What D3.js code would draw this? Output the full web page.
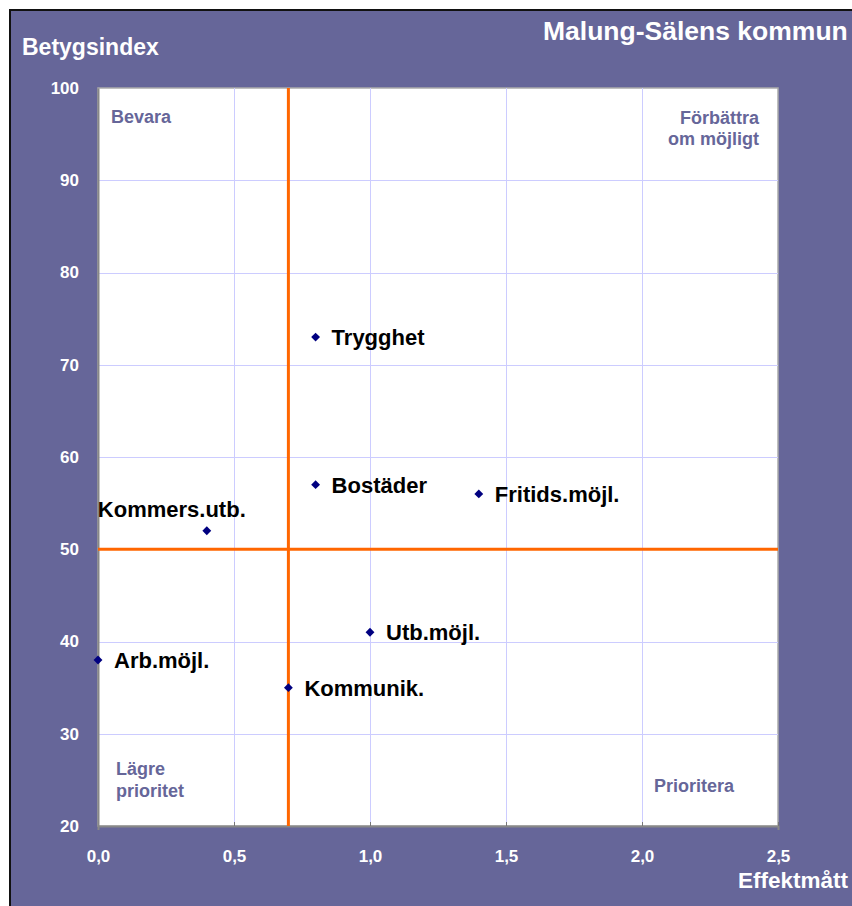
<!DOCTYPE html>
<html>
<head>
<meta charset="utf-8">
<title>Malung-Sälens kommun</title>
<script src="https://cdn.jsdelivr.net/npm/d3@7"></script>
<style>
body { margin: 0; background: #fff; font-family: "Liberation Sans", Arial, sans-serif; }
.grid line { stroke: #ccccff; stroke-width: 1px; shape-rendering: crispEdges; }
.tick text { fill: #fff; font-weight: bold; font-size: 17px; font-family: "Liberation Sans", Arial, sans-serif; }
.lbl { font-weight: bold; font-size: 22px; fill: #000; }
.quad { font-weight: bold; font-size: 18px; fill: #666699; }
.ttl { font-weight: bold; fill: #fff; }
</style>
</head>
<body>
<script>

var names = ["Trygghet", "Bostäder", "Fritids.möjl.", "Kommers.utb.", "Utb.möjl.", "Arb.möjl.", "Kommunik."];
var effekt = [0.8, 0.8, 1.4, 0.4, 1.0, 0.0, 0.7];
var betyg = [73, 57, 56, 52, 41, 38, 35];
var xTicks = [0, 0.5, 1.0, 1.5, 2.0, 2.5];
var yTicks = [20, 30, 40, 50, 60, 70, 80, 90, 100];
var xSplit = 0.7, ySplit = 50;

var W = 852, H = 906;
var pL = 98, pR = 778, pT = 88, pB = 826;

var x = d3.scaleLinear().domain([0, 2.5]).range([pL, pR]);
var y = d3.scaleLinear().domain([20, 100]).range([pB, pT]);

var svg = d3.select("body").append("svg")
  .attr("width", W).attr("height", H);

// frame
svg.append("rect").attr("x", 10).attr("y", 10).attr("width", W).attr("height", H)
  .attr("fill", "#666699").attr("stroke", "#111").attr("stroke-width", 2);

// plot area
svg.append("rect").attr("x", pL).attr("y", pT)
  .attr("width", pR - pL).attr("height", pB - pT)
  .attr("fill", "#fff").attr("stroke", "#aaa").attr("stroke-width", 1.5);

var grid = svg.append("g").attr("class", "grid");
grid.selectAll(".gx").data(xTicks.slice(1, -1)).enter().append("line")
  .attr("x1", function(d) { return Math.round(x(d)) + 0.5; })
  .attr("x2", function(d) { return Math.round(x(d)) + 0.5; })
  .attr("y1", pT).attr("y2", pB);
grid.selectAll(".gy").data(yTicks.slice(1, -1)).enter().append("line")
  .attr("y1", function(d) { return Math.round(y(d)) + 0.5; })
  .attr("y2", function(d) { return Math.round(y(d)) + 0.5; })
  .attr("x1", pL).attr("x2", pR);

// axes
var fmt = function(d) { return d3.format(".1f")(d).replace(".", ","); };
var xAxis = svg.append("g").attr("transform", "translate(0," + pB + ")")
  .call(d3.axisBottom(x).tickValues(xTicks).tickFormat(fmt).tickSize(4).tickPadding(20));
xAxis.select(".domain").attr("stroke", "#888").attr("stroke-width", 2);
xAxis.selectAll(".tick line").attr("stroke", "#777").attr("transform", "translate(0,-4)");

var yAxis = svg.append("g").attr("transform", "translate(" + pL + ",0)")
  .call(d3.axisLeft(y).tickValues(yTicks).tickSize(0).tickPadding(19));
yAxis.select(".domain").attr("stroke", "#888").attr("stroke-width", 2);

// reference lines
svg.append("line").attr("x1", x(xSplit)).attr("x2", x(xSplit))
  .attr("y1", pT).attr("y2", pB)
  .attr("stroke", "#ff6600").attr("stroke-width", 3);
svg.append("line").attr("x1", pL).attr("x2", pR)
  .attr("y1", y(ySplit)).attr("y2", y(ySplit))
  .attr("stroke", "#ff6600").attr("stroke-width", 3);

// quadrant labels
svg.append("text").attr("class", "quad").attr("x", 111).attr("y", 123).text("Bevara");
svg.append("text").attr("class", "quad").attr("x", 759).attr("y", 124)
  .attr("text-anchor", "end").text("Förbättra");
svg.append("text").attr("class", "quad").attr("x", 759).attr("y", 145)
  .attr("text-anchor", "end").text("om möjligt");
svg.append("text").attr("class", "quad").attr("x", 116).attr("y", 775).text("Lägre");
svg.append("text").attr("class", "quad").attr("x", 116).attr("y", 797).text("prioritet");
svg.append("text").attr("class", "quad").attr("x", 654).attr("y", 792).text("Prioritera");

// points
var pts = svg.append("g");
names.forEach(function(n, i) {
  pts.append("path")
    .attr("d", d3.symbol().type(d3.symbolDiamond2).size(50)())
    .attr("transform", "translate(" + x(effekt[i]) + "," + y(betyg[i]) + ")")
    .attr("fill", "#000080");
  var t = pts.append("text").attr("class", "lbl").text(n);
  if (n == "Kommers.utb.") {
    t.attr("x", x(effekt[i]) - 35).attr("y", y(betyg[i]) - 14).attr("text-anchor", "middle");
  } else {
    t.attr("x", x(effekt[i]) + 16).attr("y", y(betyg[i]) + 8);
  }
});

// titles
svg.append("text").attr("class", "ttl").attr("x", 543).attr("y", 40)
  .style("font-size", "26.5px").text("Malung-Sälens kommun");
svg.append("text").attr("class", "ttl").attr("x", 22).attr("y", 55)
  .style("font-size", "23px").text("Betygsindex");
svg.append("text").attr("class", "ttl").attr("x", 848).attr("y", 888)
  .attr("text-anchor", "end").style("font-size", "22.5px").text("Effektmått");

</script>
</body>
</html>
